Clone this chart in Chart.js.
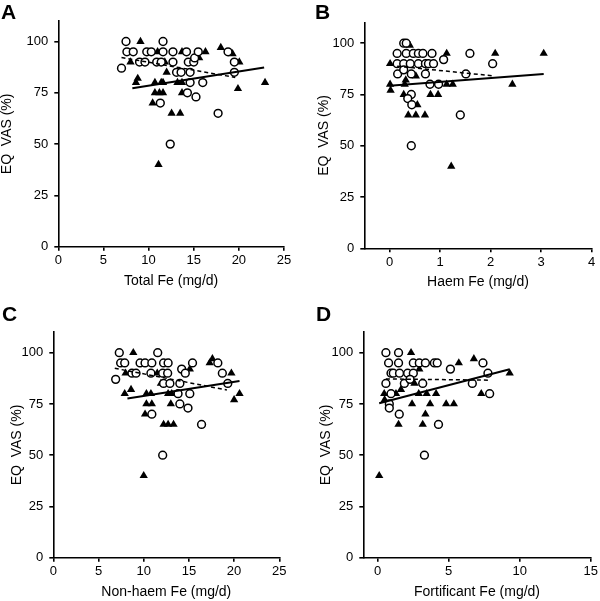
<!DOCTYPE html>
<html>
<head>
<meta charset="utf-8">
<script src="https://cdn.jsdelivr.net/npm/chart.js@4/dist/chart.umd.min.js"></script>
<style>
body{margin:0;background:#fff;}
#wrap{position:relative;width:600px;height:601px;overflow:hidden;}
canvas{position:absolute;}
.lbl{position:absolute;font:bold 21px "Liberation Sans",Arial,sans-serif;color:#000;line-height:24px;}
</style>
</head>
<body>
<div id="wrap">
<canvas id="cA" width="300" height="300" style="left:0;top:0"></canvas>
<canvas id="cB" width="300" height="300" style="left:300px;top:0"></canvas>
<canvas id="cC" width="300" height="301" style="left:0;top:300px"></canvas>
<canvas id="cD" width="300" height="301" style="left:300px;top:300px"></canvas>
<div class="lbl" style="left:1px;top:0">A</div>
<div class="lbl" style="left:315px;top:0">B</div>
<div class="lbl" style="left:2px;top:302px">C</div>
<div class="lbl" style="left:316px;top:302px">D</div>
</div>
<script>
// y axis is the same everywhere
var yTicks = [0, 25, 50, 75, 100];
var yTitle = "EQ  VAS (%)";

// A - total Fe
var aTicks = [0, 5, 10, 15, 20, 25];
var aCircX = [7.5,7.6,8.3,7.0,9.0,9.6,9.8,10.3,10.9,11.6,11.6,12.7,12.7,13.1,13.6,14.2,14.4,15.0,15.1,15.5,14.6,14.6,16.0,14.3,15.25,11.3,12.4,17.7,18.8,19.5,19.5,11.4];
var aCircY = [100,95,95,87,90,90,95,95,90,100,95,95,90,85,85,95,90,90,92,95,85,80,80,75,73,70,50,65,95,90,85,90];
var aTriX = [9.1,8.0,8.8,8.6,10.7,11.4,11.6,10.7,11.2,11.6,10.45,12.0,12.55,13.5,11.1,13.2,13.7,13.7,13.7,16.3,15.6,18.0,19.3,20.05,22.9,19.9,11.8,11.0];
var aTriY = [100,90,82,80,80,80,80,75,75,75,70,85,65,65,40,80,80,75,95,95,92,97,94,90,80,77,90,95];
var aSolidX = [8.2, 22.8], aSolidY = [77.2, 87.3];
var aDashX = [7.0, 19.6], aDashY = [92.2, 82.5];

// B - haem Fe
var bTicks = [0, 1, 2, 3, 4];
var bCircX = [0.28,0.33,0.15,0.33,0.47,0.57,0.66,0.84,0.15,0.28,0.41,0.57,0.71,0.77,0.87,1.07,1.59,2.04,0.16,0.28,0.43,0.71,1.51,0.80,0.97,0.43,0.36,0.44,0.43,1.40];
var bCircY = [100,100,95,95,95,95,95,95,90,90,90,90,90,90,90,92,95,90,85,87,85,85,85,80,80,75,73,70,50,65];
var bTriX = [0.01,0.01,0.02,0.40,0.30,0.32,0.28,0.52,0.55,0.37,0.52,0.70,0.81,0.96,1.13,1.13,1.25,1.22,2.09,2.43,3.05];
var bTriY = [90,80,77,99,80,82,75,84,70,65,65,65,75,75,95,80,80,40,95,80,95];
var bSolidX = [0.0, 3.05], bSolidY = [79.2, 85.0];
var bDashX = [0.15, 2.04], bDashY = [88.8, 84.1];

// C - non-haem Fe
var cTicks = [0, 5, 10, 15, 20, 25];
var cCircX = [7.3,11.55,7.45,7.9,9.6,10.15,10.9,12.2,12.7,15.4,18.2,8.7,9.15,10.8,12.1,12.65,14.2,14.6,18.7,6.9,12.2,12.9,14.0,19.3,13.8,15.1,14.0,14.9,10.9,16.4,12.1];
var cCircY = [100,100,95,95,95,95,95,95,95,95,95,90,90,90,90,90,92,90,90,87,85,85,85,85,80,80,75,73,70,65,50];
var cTriX = [8.85,8.0,8.6,7.9,10.3,10.8,10.3,10.9,10.15,11.9,12.7,13.1,13.0,12.2,12.7,13.3,10.0,15.1,17.3,17.6,19.7,20.6,20.0,11.5];
var cTriY = [100,90,82,80,80,80,75,75,70,85,80,80,75,65,65,65,40,92,95,97,90,80,77,90];
var cSolidX = [8.2, 20.6], cSolidY = [77.7, 86.2];
var cDashX = [6.8, 19.2], cDashY = [92.4, 81.8];

// D - fortificant Fe
var dTicks = [0, 5, 10, 15];
var dCircX = [0.59,1.48,0.78,1.48,2.52,2.94,3.37,4.0,4.2,7.42,0.95,1.11,1.55,2.12,2.52,7.77,5.13,0.59,1.89,2.29,3.18,6.67,0.95,7.89,0.83,0.83,1.53,4.29,3.30];
var dCircY = [100,100,95,95,95,95,95,95,95,95,90,90,90,90,90,90,92,85,85,87,85,85,80,80,75,73,70,65,50];
var dTriX = [2.36,0.12,0.47,0.5,1.65,1.48,2.43,2.9,3.46,4.12,2.94,3.18,3.37,3.7,4.83,5.37,5.72,6.78,7.30,9.3,2.6,1.3];
var dTriY = [100,40,80,77,82,65,75,80,80,80,92,65,70,75,75,75,95,97,80,90,85,80];
var dSolidX = [0.12, 9.3], dSolidY = [75.3, 91.9];
var dDashX = [0.59, 7.9], dDashY = [87.2, 86.6];

var FONT = "'Liberation Sans', Arial, sans-serif";

function pts(xs, ys) {
  return xs.map(function (x, i) { return {x: x, y: ys[i]}; });
}

// g = plot box inside the canvas (l, t, r, b), yt = centre of the y title
function panel(id, g, xMin, xMax, xTicks, xTitle, circX, circY, triX, triY, solX, solY, dashX, dashY) {
  var cv = document.getElementById(id);
  var W = cv.width, H = cv.height;
  var axisGrid = {display: true, drawOnChartArea: false, drawTicks: true, tickLength: 4, color: '#000', lineWidth: 1.6};
  var axisBorder = {display: true, color: '#000', width: 1.6};
  new Chart(cv, {
    type: 'scatter',
    data: {
      datasets: [
        {data: pts(solX, solY), showLine: true, borderColor: '#000', borderWidth: 2, pointRadius: 0},
        {data: pts(dashX, dashY), showLine: true, borderColor: '#000', borderWidth: 1.5, borderDash: [4, 3], pointRadius: 0},
        {data: pts(circX, circY), pointStyle: 'circle', pointRadius: 3.9, borderWidth: 1.5, borderColor: '#000', backgroundColor: '#fff'},
        {data: pts(triX, triY), pointStyle: 'triangle', pointRadius: 4.8, borderWidth: 0, borderColor: '#000', backgroundColor: '#000'}
      ]
    },
    options: {
      responsive: false,
      animation: false,
      devicePixelRatio: 1,
      layout: {padding: {left: 0, top: g.t, right: W - g.r, bottom: 0}},
      plugins: {legend: {display: false}, tooltip: {enabled: false}},
      scales: {
        x: {
          type: 'linear', min: xMin, max: xMax,
          afterBuildTicks: function (s) { s.ticks = xTicks.map(function (v) { return {value: v}; }); },
          afterFit: function (s) { s.height = H - g.b; },
          grid: axisGrid, border: axisBorder,
          ticks: {color: '#000', font: {family: FONT, size: 13}, padding: 2, maxRotation: 0, autoSkip: false},
          title: {display: true, text: xTitle, color: '#000', font: {family: FONT, size: 14, lineHeight: 1},
                  padding: {top: 0, bottom: (H - g.b) - 34 - 7}}
        },
        y: {
          type: 'linear', min: 0, max: 110,
          afterBuildTicks: function (s) { s.ticks = yTicks.map(function (v) { return {value: v}; }); },
          afterFit: function (s) { s.width = g.l; },
          grid: axisGrid, border: axisBorder,
          ticks: {color: '#000', font: {family: FONT, size: 13}, padding: 6},
          title: {display: true, text: yTitle, color: '#000', font: {family: FONT, size: 14, lineHeight: 1},
                  padding: {top: g.yt - 7, bottom: 0}}
        }
      }
    }
  });
}

panel('cA', {l: 58.3, t: 21, r: 284, b: 246.7, yt: 7.5}, 0, 25, aTicks, 'Total Fe (mg/d)',
      aCircX, aCircY, aTriX, aTriY, aSolidX, aSolidY, aDashX, aDashY);
panel('cB', {l: 64.3, t: 22.7, r: 291.7, b: 248.3, yt: 24.5}, -0.5, 4, bTicks, 'Haem Fe (mg/d)',
      bCircX, bCircY, bTriX, bTriY, bSolidX, bSolidY, bDashX, bDashY);
panel('cC', {l: 53.3, t: 32.2, r: 279.3, b: 257.7, yt: 17.5}, 0, 25, cTicks, 'Non-haem Fe (mg/d)',
      cCircX, cCircY, cTriX, cTriY, cSolidX, cSolidY, cDashX, cDashY);
panel('cD', {l: 63.3, t: 32.2, r: 290.7, b: 257.7, yt: 26}, -1, 15, dTicks, 'Fortificant Fe (mg/d)',
      dCircX, dCircY, dTriX, dTriY, dSolidX, dSolidY, dDashX, dDashY);
</script>
</body>
</html>
